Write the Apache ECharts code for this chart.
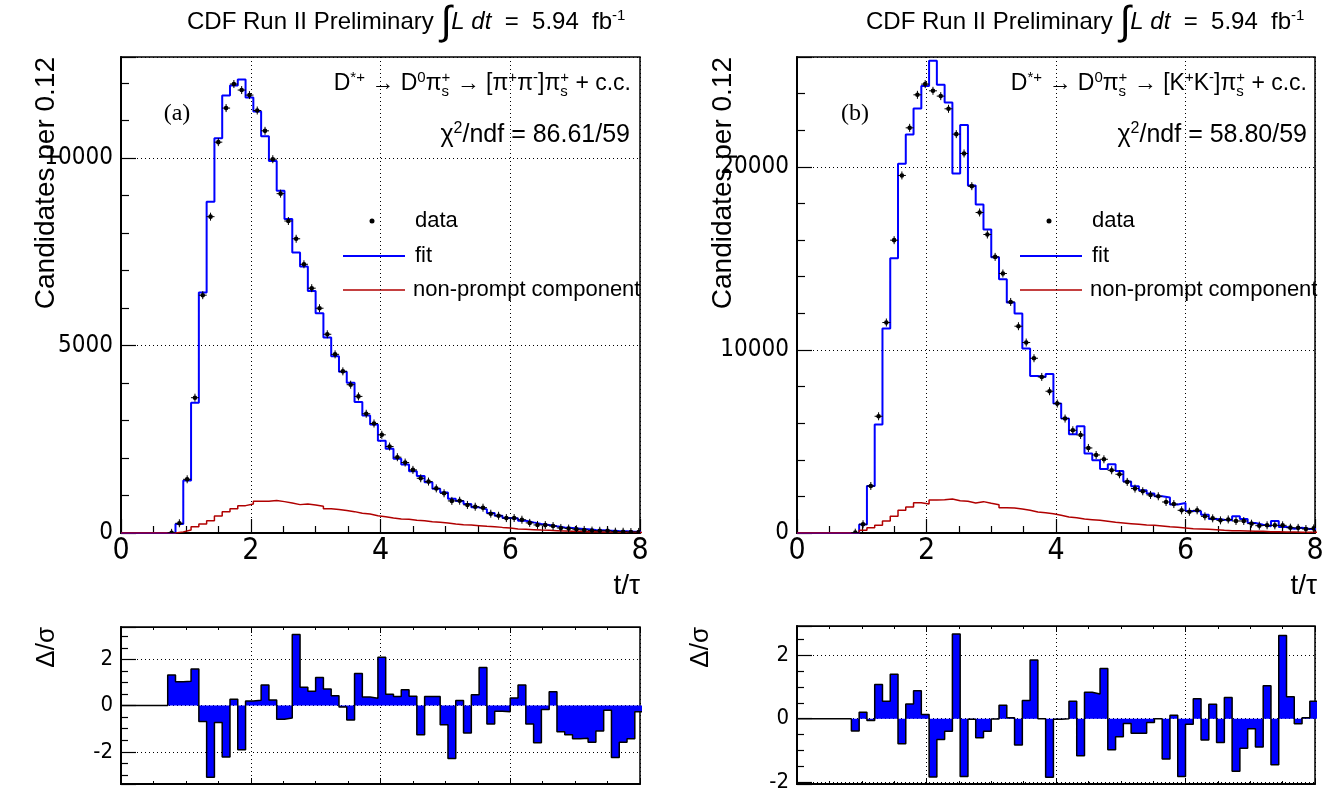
<!DOCTYPE html>
<html><head><meta charset="utf-8">
<script src="https://cdn.jsdelivr.net/npm/echarts@6/dist/echarts.min.js"></script>
<style>html,body{margin:0;padding:0;background:#fff}#c{width:1342px;height:798px}</style>
</head><body><div id="c"></div>
<script>
// ---------------- DATA ----------------
const BIN_WIDTH = 0.12;
const xTickLabels = ['0','2','4','6','8'];
// Panel (a): D0 -> pi+ pi-
const fitA = [0,0,0,0,0,0,2,240,1398,3476,6417,8840,10535,11674,11941,12102,11621,11246,10588,9928,9134,8377,7487,7110,6460,5864,5214,4714,4305,4011,3492,3136,2896,2460,2246,1979,1826,1647,1524,1353,1180,1078,917,855,775,684,631,535,463,401,390,329,283,240,214,178,150,133,116,98,80,71,62,53,45,36,30];
const dataA = [0,0,0,0,0,0,5,260,1433,3610,6345,8440,10428,11337,11979,11818,11684,11273,10730,9973,9054,8324,7850,7170,6532,5997,5302,4767,4313,3957,3644,3181,2922,2620,2307,2022,1880,1684,1460,1372,1190,1059,856,861,749,701,675,515,460,398,400,354,270,215,211,185,135,118,100,82,64,60,60,35,33,26,28];
const nonPromptA = [0,0,0,0,0,0,0,30,80,168,240,329,454,570,650,730,775,845,850,864,837,800,757,775,750,713,650,630,600,570,525,505,463,436,401,374,365,339,330,303,285,267,240,222,214,196,178,169,150,134,107,98,89,80,72,63,54,45,45,36,36,27,27,18,18,18,15];
const residA = [0,0,0,0,0,0,1.32,1.03,1.05,1.58,-0.69,-3.10,-0.73,-2.22,0.27,-1.91,0.20,0.23,0.89,0.24,-0.59,-0.54,3.08,0.79,0.62,1.22,0.72,0.43,-0.06,-0.62,1.39,0.37,0.32,2.09,0.49,0.39,0.69,0.40,-1.26,0.39,0.39,-0.83,-2.29,0.22,-1.18,0.47,1.65,-0.79,-0.24,-0.27,0.33,0.89,-0.80,-1.61,-0.17,0.60,-1.13,-1.26,-1.43,-1.41,-1.58,-1.10,-0.20,-2.24,-1.58,-1.43,-0.27];
// Panel (b): D0 -> K+ K-
const fitB = [0,0,0,0,0,0,0,20,459,2568,5923,11169,15011,20164,21770,23190,24410,25792,24481,23519,19639,22279,18984,17945,16579,15066,13863,12590,11989,10077,8579,8525,8690,7071,6251,5393,5831,4339,3973,3497,3754,3388,2809,2552,2333,2153,2005,1934,1560,1640,1202,1185,1002,765,729,700,911,765,547,455,364,656,328,237,291,219,219];
const dataB = [0,0,0,0,0,0,0,18,480,2568,6377,11497,15995,19530,22131,23934,24519,24153,23863,23170,21787,20732,18945,17508,16306,15082,14175,12620,11295,10404,9546,8525,7743,7071,6251,5612,5355,4645,4262,4027,3426,3208,2790,2426,2279,2080,2005,1694,1580,1240,1160,1240,911,800,690,740,656,656,510,400,420,419,419,291,280,219,250];
const nonPromptB = [0,0,0,0,0,0,0,20,146,291,419,656,911,1240,1421,1658,1585,1803,1821,1858,1767,1731,1640,1713,1621,1548,1384,1366,1312,1240,1148,1111,1056,965,874,838,765,729,692,638,583,547,510,474,437,419,383,346,310,273,237,219,200,182,146,128,128,109,91,91,73,73,55,55,36,36,36];
const residB = [0,0,0,0,0,0,0,-0.39,0.20,-0.06,1.08,0.55,1.40,-0.79,0.46,0.88,0.13,-1.84,-0.66,-0.40,2.67,-1.82,-0.02,-0.60,-0.40,-0.01,0.42,0.03,-0.83,0.57,1.85,0,-1.85,-0.02,0,0.55,-1.17,0.83,0.78,1.58,-0.98,-0.57,-0.15,-0.46,-0.46,-0.12,0,-1.27,0.11,-1.82,-0.18,0.63,-0.67,0.45,-0.75,0.67,-1.66,-0.93,-0.32,-0.89,1.04,-1.45,2.62,0.69,-0.16,0.03,0.55];
const firstPointA = 6, firstPointB = 7;

// ---------------- helpers ----------------
const SANS = '"Liberation Sans", Arial, Helvetica, sans-serif';
const NARROW = '"Liberation Sans Narrow", "DejaVu Sans Condensed", "Liberation Sans", sans-serif';
const SERIF = '"Liberation Serif", "Times New Roman", serif';
function steps(vals){
  const d = vals.map((v,k)=>[+(k*BIN_WIDTH).toFixed(3), v]);
  d.push([+(vals.length*BIN_WIDTH).toFixed(3), vals[vals.length-1]]);
  return d;
}
function points(vals, from){
  const out=[]; vals.forEach((v,k)=>{ if(k>=from) out.push([+((k+0.5)*BIN_WIDTH).toFixed(3), v]); }); return out;
}
const mctx = document.createElement('canvas').getContext('2d');
// lays out pieces of text (sub/superscripts) left to right
function mathText(pieces, x, yBase, align){
  let cx=0, lastX=0; const out=[];
  pieces.forEach(p=>{
    const [t, fs, dy, opt] = p; const o = opt||{};
    const fam = o.ff||SANS, sty = o.it?'italic':'normal';
    mctx.font = sty+' '+fs+'px '+fam;
    const w = mctx.measureText(t).width;
    const px = o.stack ? lastX : cx;
    out.push({type:'text', x:px, y:yBase+(dy||0)-0.36*fs, silent:true,
      style:{text:t, fontSize:fs, fontFamily:fam, fontStyle:sty, fill:'#000', align:'left', verticalAlign:'middle'}});
    if(o.stack){ cx=Math.max(cx,lastX+w); } else { lastX=px; cx=px+w; }
  });
  const off = align==='right'? x-cx : align==='center'? x-cx/2 : x;
  out.forEach(e=>e.x+=off);
  return out;
}
const SUP=-9, SUB=5, FS=23, SS=15;
function decay(daughters, xr, yb){
  return mathText([
    ['D',FS],['*+',SS,SUP],[' \u2192 ',FS],['D',FS],['0',SS,SUP],['\u03c0',FS],['+',SS,SUP],['s',SS,SUB,{stack:true}],
    [' \u2192 [',FS],[daughters[0],FS],['+',SS,SUP],[daughters[0],FS],['-',SS,SUP],[']',FS],['\u03c0',FS],['+',SS,SUP],['s',SS,SUB,{stack:true}],[' + c.c.',FS]
  ], xr, yb, 'right');
}
function chi(val, xr, yb){
  return mathText([['\u03c7',25],['2',16,-10],['/ndf = '+val,25]], xr, yb, 'right');
}
function title(xl){
  return mathText([['CDF Run II Preliminary ',24],['\u222b',40,6],['L',24,0,{it:true}],[' ',24],['dt',24,0,{it:true}],['  =  5.94  fb',24],['-1',15,-10]], xl, 31, 'left');
}
function legend(dx){
  return [
    {type:'circle', shape:{cx:372+dx, cy:221, r:2.5}, style:{fill:'#000'}},
    {type:'line', shape:{x1:343+dx,y1:256,x2:405+dx,y2:256}, style:{stroke:'#0000ff', lineWidth:2}},
    {type:'line', shape:{x1:343+dx,y1:290,x2:405+dx,y2:290}, style:{stroke:'#b00000', lineWidth:1.5}},
    {type:'text', x:415+dx, y:221, style:{text:'data', fontSize:22, fontFamily:SANS, fill:'#000', verticalAlign:'middle'}},
    {type:'text', x:415+dx, y:256, style:{text:'fit', fontSize:22, fontFamily:SANS, fill:'#000', verticalAlign:'middle'}},
    {type:'text', x:413+dx, y:290, style:{text:'non-prompt component', fontSize:22, fontFamily:SANS, fill:'#000', verticalAlign:'middle'}}
  ];
}
function axisTitles(dx, dsx){
  return [
    {type:'text', x:46+dx, y:57, rotation:Math.PI/2, style:{text:'Candidates per 0.12', fontSize:28, fontFamily:SANS, fill:'#000', align:'right', verticalAlign:'middle'}},
    {type:'text', x:640+dx, y:586, style:{text:'t/\u03c4', fontSize:28, fontFamily:SANS, fill:'#000', align:'right', verticalAlign:'middle'}},
    {type:'text', x:dsx, y:627, rotation:Math.PI/2, style:{text:'\u0394/\u03c3', fontSize:26, fontFamily:SANS, fill:'#000', align:'right', verticalAlign:'middle'}}
  ];
}

// ---------------- axes ----------------
const dotted = {show:true, lineStyle:{color:'#000', type:[1,3], width:1}};
function mainX(g){ return {type:'value', gridIndex:g, min:0, max:8, interval:2,
  axisLine:{show:true, onZero:false, lineStyle:{color:'#000', width:2}},
  axisTick:{show:true, inside:true, length:14, lineStyle:{color:'#000', width:1.2}},
  minorTick:{show:true, splitNumber:4, length:7, lineStyle:{color:'#000', width:1.2}},
  axisLabel:{show:true, fontSize:30, fontFamily:NARROW, color:'#000', margin:3, formatter:(v,i)=>xTickLabels[i]!==undefined?String(v):''},
  splitLine:dotted};
}
function resX(g, pos){ return {type:'value', gridIndex:g, min:0, max:8, interval:2, position:pos,
  axisLine:{show:true, onZero:false, lineStyle:{color:'#000', width:pos==='bottom'?2:1}},
  axisTick:{show:true, inside:true, length:6, lineStyle:{color:'#000'}},
  minorTick:{show:true, splitNumber:4, length:3, lineStyle:{color:'#000'}},
  axisLabel:{show:false}, splitLine: pos==='bottom'?dotted:{show:false}};
}
function mainY(g, max, interval){ return {type:'value', gridIndex:g, min:0, max:max, interval:interval,
  axisLine:{show:true, onZero:false, lineStyle:{color:'#000', width:2}},
  axisTick:{show:true, inside:true, length:15, lineStyle:{color:'#000', width:1.2}},
  minorTick:{show:true, splitNumber:5, length:8, lineStyle:{color:'#000', width:1.2}},
  axisLabel:{show:true, fontSize:24, fontFamily:NARROW, color:'#000', margin:8, showMaxLabel:false, formatter:v=>String(v)},
  splitLine:dotted};
}
function resY(g, min, max){ return {type:'value', gridIndex:g, min:min, max:max, splitNumber:3,
  axisLine:{show:true, onZero:false, lineStyle:{color:'#000', width:2}},
  axisTick:{show:true, inside:true, length:15, lineStyle:{color:'#000', width:1.2}},
  minorTick:{show:true, splitNumber:4, length:7, lineStyle:{color:'#000', width:1.2}},
  axisLabel:{show:true, fontSize:22, fontFamily:NARROW, color:'#000', margin:8, showMinLabel:false, showMaxLabel:false,
    formatter:v=>(Math.abs(v-Math.round(v))<1e-6 && Math.round(v)%2===0)?String(Math.round(v)):''},
  splitLine:dotted};
}

// ---------------- series ----------------
function histLine(vals, xi, yi, color, w, z){
  return {type:'line', xAxisIndex:xi, yAxisIndex:yi, data:steps(vals), step:'end', symbol:'none', clip:true, z:z,
    lineStyle:{color:color, width:w}};
}
function dataPts(vals, from, xi, yi){
  return {type:'custom', xAxisIndex:xi, yAxisIndex:yi, data:points(vals, from), clip:true, z:5,
    renderItem:(params, api)=>{
      const p = api.coord([api.value(0), api.value(1)]);
      return {type:'group', children:[
        {type:'line', shape:{x1:p[0]-4, y1:p[1], x2:p[0]+4, y2:p[1]}, style:{stroke:'#000', lineWidth:1}},
        {type:'line', shape:{x1:p[0], y1:p[1]-4, x2:p[0], y2:p[1]+4}, style:{stroke:'#000', lineWidth:1}},
        {type:'circle', shape:{cx:p[0], cy:p[1], r:2.3}, style:{fill:'#000'}}
      ]};
    }};
}
function residSeries(vals, xi, yi){
  return {type:'line', xAxisIndex:xi, yAxisIndex:yi, data:steps(vals), step:'end', symbol:'none', clip:true, z:3,
    lineStyle:{color:'#000', width:1.5}, areaStyle:{color:'#0000ff', opacity:1, origin:0}};
}

const option = {
  animation:false,
  backgroundColor:'#fff',
  grid:[
    {left:121, top:57, width:519, height:476, show:true, borderColor:'#000', borderWidth:1.5},
    {left:797, top:57, width:518, height:476, show:true, borderColor:'#000', borderWidth:1.5},
    {left:121, top:627, width:519, height:157, show:true, borderColor:'#000', borderWidth:1.5},
    {left:797, top:626, width:518, height:158, show:true, borderColor:'#000', borderWidth:1.5}
  ],
  xAxis:[mainX(0), mainX(1), resX(2,'bottom'), resX(3,'bottom'), resX(2,'top'), resX(3,'top')],
  yAxis:[mainY(0,12700,5000), mainY(1,26000,10000), resY(2,-3.39,3.4), resY(3,-2.06,2.92)],
  series:[
    histLine(fitA,0,0,'#0000ff',2,3), histLine(nonPromptA,0,0,'#b00000',1.5,4), dataPts(dataA,firstPointA,0,0),
    histLine(fitB,1,1,'#0000ff',2,3), histLine(nonPromptB,1,1,'#b00000',1.5,4), dataPts(dataB,firstPointB,1,1),
    residSeries(residA,2,2), residSeries(residB,3,3)
  ],
  graphic:[].concat(
    title(187), title(866),
    decay(['\u03c0','\u03c0'], 631, 92), decay(['K','K'], 1307, 92),
    chi('86.61/59', 630, 144), chi('58.80/59', 1307, 144),
    [{type:'text', x:177, y:114, style:{text:'(a)', fontSize:24, fontFamily:SERIF, fill:'#000', align:'center', verticalAlign:'middle'}},
     {type:'text', x:855, y:114, style:{text:'(b)', fontSize:24, fontFamily:SERIF, fill:'#000', align:'center', verticalAlign:'middle'}}],
    legend(0), legend(677), axisTitles(0, 47), axisTitles(677, 701)
  )
};
const chart = echarts.init(document.getElementById('c'), null, {renderer:'canvas'});
chart.setOption(option);
</script></body></html>
